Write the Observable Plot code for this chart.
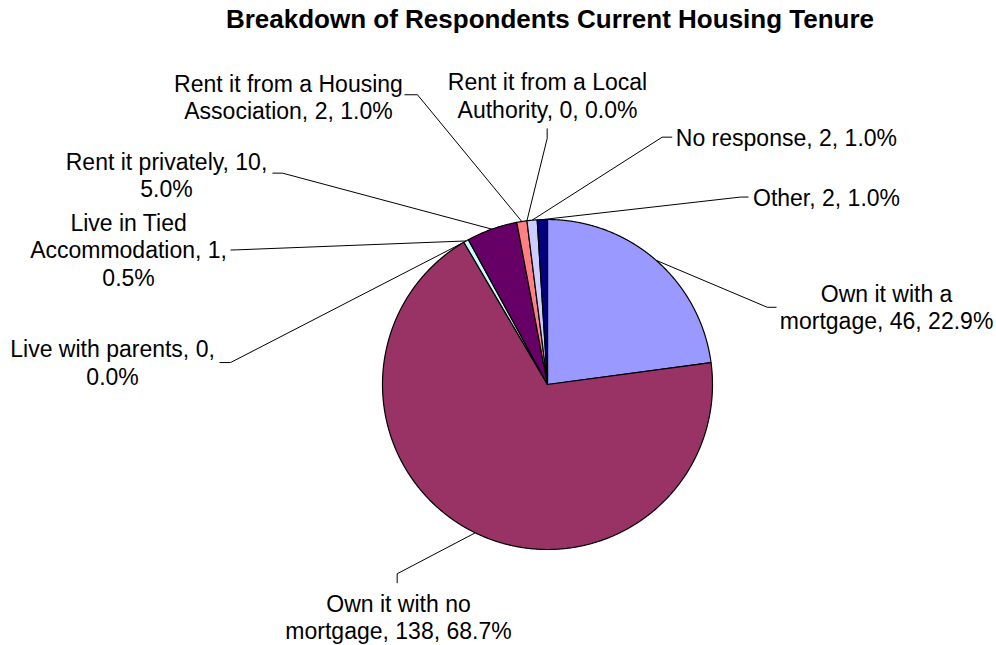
<!DOCTYPE html>
<html><head><meta charset="utf-8">
<script src="https://cdn.jsdelivr.net/npm/d3@7"></script>
<script src="https://cdn.jsdelivr.net/npm/@observablehq/plot@0.6"></script>
<style>
body{margin:0;background:#fff;font-family:"Liberation Sans",Arial,sans-serif;}
#title{box-sizing:border-box;width:996px;height:50px;padding-left:104px;padding-top:1px;text-align:center;font-weight:bold;font-size:26px;line-height:36px;color:#000;}
#chart svg{display:block;}
</style></head><body>
<div id="title">Breakdown of Respondents Current Housing Tenure</div>
<div id="chart"></div>
<script>
// ---- data ----
const categories = ["Own it with a mortgage", "Own it with no mortgage", "Live with parents", "Live in Tied Accommodation", "Rent it privately", "Rent it from a Housing Association", "Rent it from a Local Authority", "No response", "Other"];
const counts = [46, 138, 0, 1, 10, 2, 0, 2, 2];
const labels = [
  "Own it with a\nmortgage, 46, 22.9%",
  "Own it with no\nmortgage, 138, 68.7%",
  "Live with parents, 0,\n0.0%",
  "Live in Tied\nAccommodation, 1,\n0.5%",
  "Rent it privately, 10,\n5.0%",
  "Rent it from a Housing\nAssociation, 2, 1.0%",
  "Rent it from a Local\nAuthority, 0, 0.0%",
  "No response, 2, 1.0%",
  "Other, 2, 1.0%"
];
const colors = ["#9999FF", "#993366", "#FFFFCC", "#CCFFFF", "#660066", "#FF8080", "#0066CC", "#CCCCFF", "#000080"];

// ---- layout (in pie-radius units, relative to the pie centre, y up) ----
const labelPos = [[2.055, 0.473], [-0.903, -1.406], [-2.636, 0.136], [-2.539, 0.818], [-2.309, 1.273], [-1.570, 1.745], [0, 1.752], [1.448, 1.497], [1.691, 1.135]];
const leaderElbow = [[1.332, 0.468], [-0.911, -1.147], [-1.921, 0.133], [-1.885, 0.816], [-1.606, 1.281], [-0.788, 1.756], [-0.002, 1.491], [0.695, 1.499], [1.170, 1.136]];
const leaderEnd = [[1.388, 0.468], [-0.911, -1.204], [-1.988, 0.133], [-1.921, 0.815], [-1.667, 1.281], [-0.867, 1.756], [-0.002, 1.552], [0.756, 1.499], [1.218, 1.136]];

const W = 996, H = 595, CX = 547, CY = 334, R = 165;

const arcs = d3.pie().sort(null).startAngle(0).endAngle(2 * Math.PI)(counts);

// slice polygons
const slicePts = [];
arcs.forEach((a, i) => {
  if (counts[i] <= 0) return;
  const name = categories[i];
  slicePts.push({name, x: 0, y: 0});
  const n = Math.max(2, Math.ceil((a.endAngle - a.startAngle) / (Math.PI / 720)));
  for (let k = 0; k <= n; k++) {
    const t = a.startAngle + (a.endAngle - a.startAngle) * k / n;
    slicePts.push({name, x: Math.sin(t), y: Math.cos(t)});
  }
  slicePts.push({name, x: 0, y: 0});
});

// leader lines
const leaderPts = [];
arcs.forEach((a, i) => {
  const m = (a.startAngle + a.endAngle) / 2;
  leaderPts.push({name: categories[i], x: Math.sin(m), y: Math.cos(m)});
  leaderPts.push({name: categories[i], x: leaderElbow[i][0], y: leaderElbow[i][1]});
  leaderPts.push({name: categories[i], x: leaderEnd[i][0], y: leaderEnd[i][1]});
});

const labelData = categories.map((c, i) => ({name: c, text: labels[i], x: labelPos[i][0], y: labelPos[i][1]}));

const chart = Plot.plot({
  width: W, height: H, margin: 0,
  style: {fontFamily: "'Liberation Sans', Arial, sans-serif", background: "#fff"},
  x: {domain: [-CX / R, (W - CX) / R], range: [0, W], axis: null},
  y: {domain: [-(H - CY) / R, CY / R], range: [H, 0], axis: null},
  color: {domain: categories, range: colors},
  marks: [
    Plot.line(leaderPts, {x: "x", y: "y", z: "name", stroke: "#000", strokeWidth: 1, strokeLinejoin: "miter", strokeLinecap: "butt"}),
    Plot.line(slicePts, {x: "x", y: "y", z: "name", fill: "name", stroke: "#000", strokeWidth: 1.2, strokeLinejoin: "round"}),
    Plot.text(labelData, {x: "x", y: "y", text: "text", fontSize: 23, lineHeight: 1.2, fill: "#000", textAnchor: "middle", lineAnchor: "middle"})
  ]
});
document.getElementById("chart").appendChild(chart);
</script>
</body></html>
